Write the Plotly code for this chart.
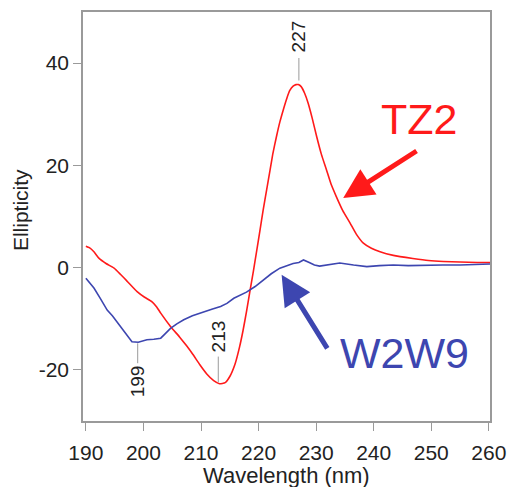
import plotly.graph_objects as go

# ---- data ----
tz2_wl = [190.0, 190.6, 191.4, 192.3, 193.5, 194.9, 196.0, 197.2, 198.9, 200.2, 201.5,
          202.3, 203.0, 204.7, 206.3, 207.5, 208.6, 209.8, 211.0, 212.2, 213.2, 214.2,
          215.0, 215.9, 216.7, 217.3, 217.9, 218.5, 219.1, 219.6, 220.2, 220.8, 221.4,
          222.0, 222.5, 223.1, 223.7, 224.3, 224.9, 225.4, 226.0, 226.5, 226.9, 227.4,
          228.0, 228.6, 229.3, 230.1, 230.9, 231.8, 232.6, 233.5, 234.6, 235.9, 237.0,
          238.2, 239.6, 241.1, 243.4, 246.8, 249.5, 252.1, 255.0, 258.0, 260.2]
tz2_val = [4.2, 3.9, 3.1, 1.8, 0.8, -0.1, -1.3, -2.7, -4.7, -5.8, -6.7,
           -7.7, -8.9, -11.5, -13.6, -15.3, -17.0, -19.0, -20.8, -22.1, -22.7, -22.5,
           -21.3, -18.9, -15.5, -12.3, -8.6, -4.6, -0.7, 2.8, 7.0, 11.3, 15.2,
           19.1, 22.4, 25.6, 28.5, 30.9, 33.1, 34.6, 35.5, 35.8, 35.8, 35.4,
           34.1, 32.2, 29.3, 25.6, 22.2, 19.1, 16.3, 13.9, 11.2, 8.7, 6.5,
           4.8, 3.8, 3.1, 2.4, 1.8, 1.4, 1.2, 1.1, 1.0, 1.0]

w2w9_wl = [190.0, 191.4, 192.5, 193.7, 194.6, 195.4, 196.8, 198.0, 199.1, 200.6,
           201.8, 203.0, 203.8, 204.7, 205.8, 207.0, 208.5, 210.5, 212.0, 213.4, 214.5,
           215.7, 216.8, 217.9, 219.4, 220.8, 222.2, 223.7, 225.0, 226.0, 227.0, 227.8,
           228.8, 229.7, 230.6, 232.0, 234.1, 236.5, 238.8, 241.0, 243.4, 246.0, 249.2,
           252.0, 255.0, 258.0, 260.2]
w2w9_val = [-2.1, -4.0, -6.0, -8.3, -9.4, -10.6, -12.6, -14.5, -14.6, -14.1,
            -14.0, -13.8, -12.9, -11.9, -11.0, -10.2, -9.4, -8.6, -8.1, -7.6, -7.0,
            -6.0, -5.4, -4.8, -3.7, -2.4, -1.2, -0.1, 0.4, 0.8, 1.0, 1.5,
            1.0, 0.5, 0.3, 0.6, 0.9, 0.5, 0.2, 0.4, 0.5, 0.4, 0.5,
            0.5, 0.5, 0.6, 0.7]

peak_wl = [227, 213, 199]
peak_val = [35.8, -22.7, -14.6]
peak_label_y = [45.2, -13.4, -22.3]
peak_line_end = [41.0, -17.4, -18.7]

x_ticks = [190, 200, 210, 220, 230, 240, 250, 260]
y_ticks = [-20, 0, 20, 40]
y_tick_text = ["-20", "0", "20", "40"]

RED = "#ff1a1a"
BLUE = "#3d46b0"
GREY = "#9a9a9a"
TXT = "#222222"
FONT = "Liberation Sans, Arial, sans-serif"

fig = go.Figure()
fig.add_trace(go.Scatter(x=tz2_wl, y=tz2_val, mode="lines", line_shape="spline",
                         line=dict(color=RED, width=1.6, smoothing=0.5), name="TZ2"))
fig.add_trace(go.Scatter(x=w2w9_wl, y=w2w9_val, mode="lines",
                         line=dict(color=BLUE, width=1.6), name="W2W9"))

# peak label lines and text
for wl, v, ly, le in zip(peak_wl, peak_val, peak_label_y, peak_line_end):
    y0 = v + 0.8 if v > 0 else (v - 0.2 if wl == 199 else v + 0.3)
    fig.add_shape(type="line", x0=wl, x1=wl, y0=y0, y1=le, xref="x", yref="y",
                  line=dict(color=GREY, width=1))
    fig.add_annotation(x=wl, y=ly, text=str(wl), showarrow=False, textangle=-90,
                       font=dict(family=FONT, size=19, color=TXT),
                       xanchor="center", yanchor="middle")

# big labels with arrows
fig.add_annotation(x=234.7, y=13.6, ax=247.7, ay=23.0, axref="x", ayref="y",
                   xref="x", yref="y", text="", showarrow=True, arrowhead=2,
                   arrowsize=1.2, arrowwidth=5, arrowcolor=RED)
fig.add_annotation(x=247.8, y=29.1, text="TZ2", showarrow=False,
                   font=dict(family=FONT, size=43, color=RED))
fig.add_annotation(x=224.0, y=-1.4, ax=232.1, ay=-16.1, axref="x", ayref="y",
                   xref="x", yref="y", text="", showarrow=True, arrowhead=2,
                   arrowsize=1.2, arrowwidth=5, arrowcolor=BLUE)
fig.add_annotation(x=245.4, y=-16.7, text="W2W9", showarrow=False,
                   font=dict(family=FONT, size=43, color=BLUE))

# axis titles
fig.add_annotation(xref="paper", yref="paper", x=0.501, y=-0.133,
                   text="Wavelength (nm)", showarrow=False,
                   xanchor="center", yanchor="middle",
                   font=dict(family=FONT, size=22, color=TXT))
fig.add_annotation(xref="paper", yref="paper", x=-0.152, y=0.516,
                   text="Ellipticity", showarrow=False, textangle=-90,
                   xanchor="center", yanchor="middle",
                   font=dict(family=FONT, size=21, color=TXT))

fig.update_layout(
    width=510, height=487,
    margin=dict(l=83, r=20, t=12, b=66),
    paper_bgcolor="white", plot_bgcolor="white",
    showlegend=False,
    font=dict(family=FONT, color=TXT),
)
fig.update_xaxes(range=[189.5, 260.2], tickvals=x_ticks, ticks="outside", ticklen=8,
                 tickcolor=GREY, tickwidth=1.2, showline=True, linecolor=GREY,
                 linewidth=1.5, mirror=True, showgrid=False, zeroline=False,
                 automargin=False, ticklabelstandoff=4,
                 tickfont=dict(size=21, color=TXT))
fig.update_yaxes(range=[-30, 50], tickvals=y_ticks, ticktext=y_tick_text,
                 ticks="outside", ticklen=8,
                 tickcolor=GREY, tickwidth=1.2, showline=True, linecolor=GREY,
                 linewidth=1.5, mirror=True, showgrid=False, zeroline=False,
                 automargin=False,
                 tickfont=dict(size=21, color=TXT))

fig.write_html("out.html")
